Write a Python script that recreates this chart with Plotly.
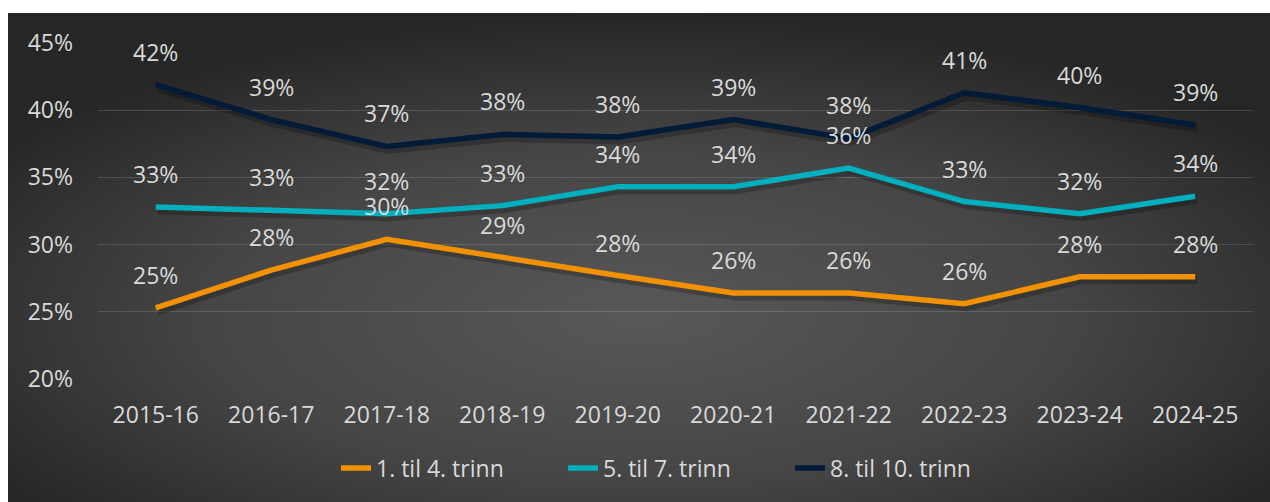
import base64
import plotly.graph_objects as go

categories = ["2015-16", "2016-17", "2017-18", "2018-19", "2019-20",
              "2020-21", "2021-22", "2022-23", "2023-24", "2024-25"]
trinn_1_4 = [25.3, 28.1, 30.4, 29.0, 27.7, 26.4, 26.4, 25.6, 27.6, 27.6]
trinn_5_7 = [32.8, 32.6, 32.3, 32.9, 34.3, 34.3, 35.7, 33.2, 32.3, 33.6]
trinn_8_10 = [41.9, 39.3, 37.3, 38.2, 38.0, 39.3, 37.9, 41.3, 40.2, 38.9]
series_names = ["1. til 4. trinn", "5. til 7. trinn", "8. til 10. trinn"]
y_ticks = [20, 25, 30, 35, 40, 45]

colors = ["#F29100", "#00AFBE", "#021B38"]
text_color = "#D9D9D9"
font_family = "Open Sans, Noto Sans, sans-serif"
FS = 23

W, H = 1270, 502
L, R, T, B = 98, 17, 43, 123
pw, ph = W - L - R, H - T - B

xr = [-0.5, len(categories) - 0.5]
yr = [20, 45]
# shadow offset (pixels) -> shifted axis ranges
sx, sy = 2, 3
dx = sx * (xr[1] - xr[0]) / pw
dy = sy * (yr[1] - yr[0]) / ph

fig = go.Figure()
all_series = [trinn_1_4, trinn_5_7, trinn_8_10]
# invisible trace so the base axes (ticks, grid) are drawn
fig.add_trace(go.Scatter(
    x=categories, y=trinn_1_4, mode="lines", showlegend=False, opacity=0,
    line=dict(width=0), hoverinfo="skip", xaxis="x", yaxis="y",
))
# soft shadows
for vals in all_series:
    fig.add_trace(go.Scatter(
        x=categories, y=vals, mode="lines", showlegend=False,
        line=dict(color="rgba(0,0,0,0.22)", width=9),
        hoverinfo="skip", xaxis="x2", yaxis="y2",
    ))
# main lines
for name, vals, col in zip(series_names, all_series, colors):
    fig.add_trace(go.Scatter(
        x=categories, y=vals, name=name, mode="lines",
        line=dict(color=col, width=5.5),
        hoverinfo="skip", xaxis="x3", yaxis="y3",
    ))

annotations = []
for vals in all_series:
    for c, v in zip(categories, vals):
        annotations.append(dict(
            x=c, y=v, xref="x3", yref="y3", text=f"{v:.0f}%",
            showarrow=False, yshift=33,
            font=dict(family=font_family, size=FS, color=text_color),
        ))

# radial gradient background (as SVG image)
svg = (
    '<svg xmlns="http://www.w3.org/2000/svg" width="1262" height="489" '
    'viewBox="0 0 1262 489" preserveAspectRatio="none">'
    '<defs><radialGradient id="g" cx="50%" cy="62%" r="62%">'
    '<stop offset="0%" stop-color="#585858"/>'
    '<stop offset="55%" stop-color="#454545"/>'
    '<stop offset="100%" stop-color="#262626"/>'
    '</radialGradient></defs>'
    '<rect x="0" y="0" width="1262" height="489" fill="url(#g)"/></svg>'
)
src = "data:image/svg+xml;base64," + base64.b64encode(svg.encode()).decode()

bx0, bx1 = 8, 1270
by0, by1 = 13, 502
img = dict(
    source=src, xref="paper", yref="paper",
    x=(bx0 - L) / pw, y=(H - B - by0) / ph,
    sizex=(bx1 - bx0) / pw, sizey=(by1 - by0) / ph,
    xanchor="left", yanchor="top", sizing="stretch", layer="below",
)

hidden = dict(visible=False, showgrid=False, zeroline=False)

fig.update_layout(
    width=W, height=H,
    margin=dict(l=L, r=R, t=T, b=B),
    paper_bgcolor="white",
    plot_bgcolor="rgba(0,0,0,0)",
    images=[img],
    annotations=annotations,
    font=dict(family=font_family, size=FS, color=text_color),
    showlegend=True,
    legend=dict(
        orientation="h", x=(336 - L) / pw, y=-0.265, xanchor="left", yanchor="middle",
        font=dict(family=font_family, size=FS, color=text_color),
        bgcolor="rgba(0,0,0,0)",
        entrywidth=182, entrywidthmode="pixels",
    ),
    xaxis=dict(
        type="category", categoryarray=categories, range=xr,
        showgrid=False, zeroline=False, showline=False,
        ticks="", tickfont=dict(size=FS, color=text_color),
        ticklabelstandoff=20,
    ),
    yaxis=dict(
        range=yr, tickvals=y_ticks,
        ticktext=[f"{t}%" for t in y_ticks],
        showgrid=True, gridcolor="rgba(255,255,255,0.14)", gridwidth=1.3,
        zeroline=False, showline=False, ticks="",
        tickfont=dict(size=FS, color=text_color),
        ticklabelstandoff=24,
    ),
    xaxis2=dict(overlaying="x", type="category", categoryarray=categories,
                range=[xr[0] - dx, xr[1] - dx], **hidden),
    yaxis2=dict(overlaying="y", range=[yr[0] + dy, yr[1] + dy], **hidden),
    xaxis3=dict(overlaying="x", type="category", categoryarray=categories,
                range=xr, **hidden),
    yaxis3=dict(overlaying="y", range=yr, **hidden),
)

fig.write_html("out.html", config={"displayModeBar": False},
               post_script="document.body.style.margin='0';")
